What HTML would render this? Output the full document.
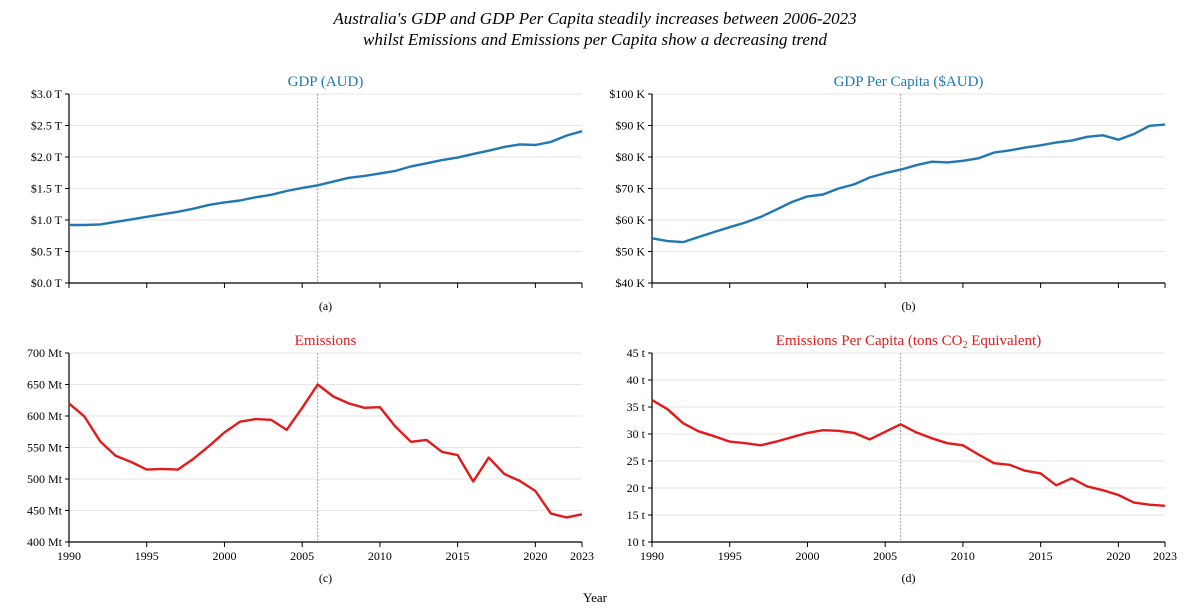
<!DOCTYPE html>
<html><head><meta charset="utf-8">
<style>
body{margin:0;background:#fff;}
svg{display:block;font-family:"Liberation Serif",serif;}
</style></head>
<body>
<svg id="chart" width="1190" height="615" xmlns="http://www.w3.org/2000/svg">
<text x="595" y="24" text-anchor="middle" font-size="17" font-style="italic">Australia's GDP and GDP Per Capita steadily increases between 2006-2023</text>
<text x="595" y="45" text-anchor="middle" font-size="17" font-style="italic">whilst Emissions and Emissions per Capita show a decreasing trend</text>
<text x="595" y="602" text-anchor="middle" font-size="13">Year</text>
</svg>
<script>
const years = [];
for (let y = 1990; y <= 2023; y++) years.push(y);
const gdp = [0.92,0.92,0.93,0.97,1.01,1.05,1.09,1.13,1.18,1.24,1.28,1.31,1.36,1.40,1.46,1.51,1.55,1.61,1.67,1.70,1.74,1.78,1.85,1.90,1.95,1.99,2.05,2.10,2.16,2.20,2.19,2.24,2.34,2.41];
const gdpPerCapita = [54.2,53.3,53.0,54.6,56.2,57.7,59.2,61.0,63.3,65.7,67.5,68.1,70.0,71.3,73.5,74.9,76.0,77.4,78.5,78.3,78.8,79.6,81.4,82.1,83.0,83.7,84.6,85.2,86.4,86.9,85.5,87.3,89.9,90.3];
const emissions = [620,599,560,537,527,515,516,515,532,552,574,591,595,594,578,613,650,631,620,613,614,583,559,562,543,538,496,534,508,497,481,445,439,444];
const emissionsPerCapita = [36.3,34.6,32.0,30.5,29.6,28.6,28.3,27.9,28.6,29.4,30.2,30.7,30.6,30.2,29.0,30.4,31.8,30.3,29.2,28.3,27.9,26.2,24.6,24.3,23.2,22.7,20.5,21.8,20.3,19.6,18.7,17.3,16.9,16.7];
const gdpTicks = [0,0.5,1.0,1.5,2.0,2.5,3.0];
const gdpPcTicks = [40,50,60,70,80,90,100];
const emTicks = [400,450,500,550,600,650,700];
const empcTicks = [10,15,20,25,30,35,40,45];
const xTicks = [1990,1995,2000,2005,2010,2015,2020,2023];
const markerYear = 2006;

const svg = document.getElementById('chart');
const NS = 'http://www.w3.org/2000/svg';
function mk(tag, attrs){const e=document.createElementNS(NS,tag);for(const k in attrs)e.setAttribute(k,attrs[k]);return e;}

const panels = [
 {name:'gdp',x0:69,x1:582,y0:94,y1:283,data:gdp,ticks:gdpTicks,fmt:v=>'$'+v.toFixed(1)+' T',color:'#1f77b4',title:'GDP (AUD)',label:'(a)',xlabels:false},
 {name:'gdp-per-capita',x0:652,x1:1165,y0:94,y1:283,data:gdpPerCapita,ticks:gdpPcTicks,fmt:v=>'$'+v+' K',color:'#1f77b4',title:'GDP Per Capita ($AUD)',label:'(b)',xlabels:false},
 {name:'emissions',x0:69,x1:582,y0:353,y1:542,data:emissions,ticks:emTicks,fmt:v=>v+' Mt',color:'#e31a1c',title:'Emissions',label:'(c)',xlabels:true},
 {name:'emissions-per-capita',x0:652,x1:1165,y0:353,y1:542,data:emissionsPerCapita,ticks:empcTicks,fmt:v=>v+' t',color:'#e31a1c',title:'Emissions Per Capita (tons CO<tspan font-size="10" dy="3">2</tspan><tspan dy="-3"> Equivalent)</tspan>',label:'(d)',xlabels:true}
];

panels.forEach(p=>{
  const g = mk('g',{});
  
  
  svg.appendChild(g);
  const tmin=p.ticks[0], tmax=p.ticks[p.ticks.length-1];
  const xs = v => p.x0 + (v-1990)/(2023-1990)*(p.x1-p.x0);
  const ys = v => p.y1 - (v-tmin)/(tmax-tmin)*(p.y1-p.y0);
  p.ticks.forEach(t=>{
    const y=ys(t);
    const gl=mk('line',{x1:p.x0,x2:p.x1,y1:y,y2:y,stroke:'#e6e6e6','stroke-width':1});
    
    
    g.appendChild(gl);
    const tk=mk('line',{x1:p.x0-4,x2:p.x0,y1:y,y2:y,stroke:'#000','stroke-width':1});
    
    
    g.appendChild(tk);
    const tl=mk('text',{x:p.x0-7,y:y+4,'text-anchor':'end','font-size':12});
    tl.textContent=p.fmt(t);
    
    
    g.appendChild(tl);
  });
  const vx=xs(markerYear);
  const vl=mk('line',{x1:vx,x2:vx,y1:p.y0,y2:p.y1,stroke:'#888','stroke-width':0.8,'stroke-dasharray':'2,1.5'});
  
  
  g.appendChild(vl);
  const ax=mk('path',{d:`M${p.x0},${p.y0}V${p.y1}H${p.x1}`,fill:'none',stroke:'#000','stroke-width':1.2});
  
  
  g.appendChild(ax);
  xTicks.forEach(t=>{
    const x=xs(t);
    const tk=mk('line',{x1:x,x2:x,y1:p.y1,y2:p.y1+5,stroke:'#000','stroke-width':1});
    
    
    g.appendChild(tk);
    if(p.xlabels){
      const tl=mk('text',{x:x,y:p.y1+18,'text-anchor':'middle','font-size':12});
      tl.textContent=t;
      
      
      g.appendChild(tl);
    }
  });
  const d=p.data.map((v,i)=>(i?'L':'M')+xs(years[i]).toFixed(1)+','+ys(v).toFixed(1)).join('');
  const ln=mk('path',{d:d,fill:'none',stroke:p.color,'stroke-width':2.4,'stroke-linejoin':'round'});
  
  
  g.appendChild(ln);
  const tt=mk('text',{x:(p.x0+p.x1)/2,y:p.y0-8,'text-anchor':'middle','font-size':15,fill:p.color});
  tt.innerHTML=p.title;
  
  
  g.appendChild(tt);
  const lb=mk('text',{x:(p.x0+p.x1)/2,y:p.y1+(p.xlabels?40:27),'text-anchor':'middle','font-size':12});
  lb.textContent=p.label;
  
  
  g.appendChild(lb);
});
</script>
</body></html>
